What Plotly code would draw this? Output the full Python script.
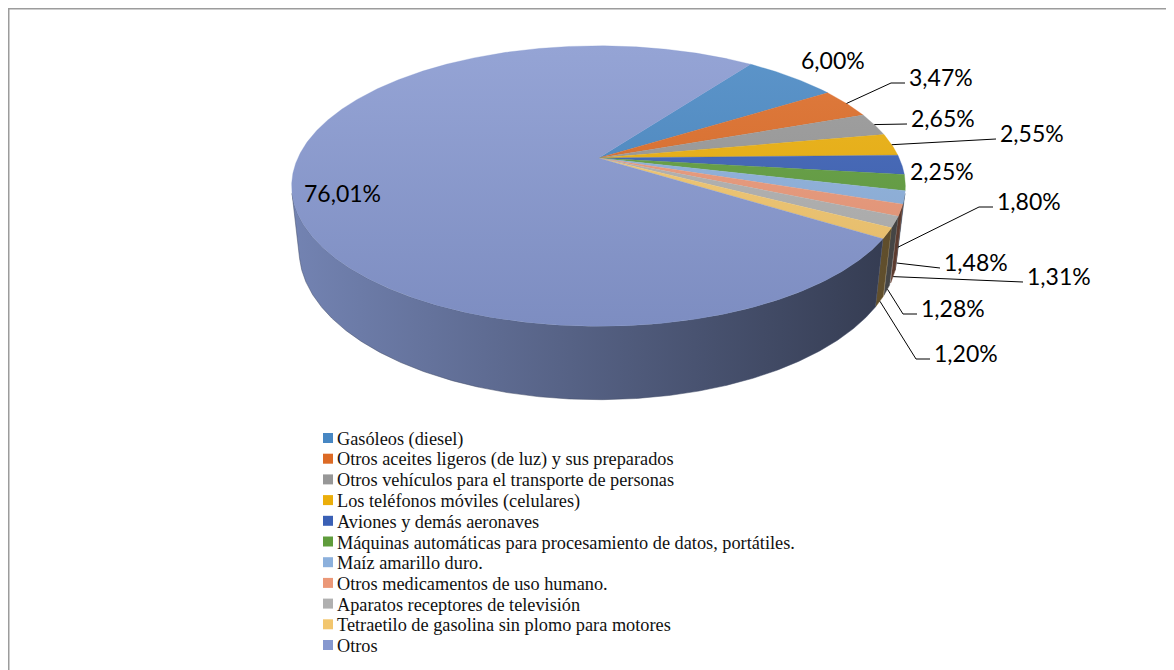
import numpy as np
import plotly.graph_objects as go

# ---------------- data ----------------
categories = [
    "Gasóleos (diesel)",
    "Otros aceites ligeros (de luz) y sus preparados",
    "Otros vehículos para el transporte de personas",
    "Los teléfonos móviles (celulares)",
    "Aviones y demás aeronaves",
    "Máquinas automáticas para procesamiento de datos, portátiles.",
    "Maíz amarillo duro.",
    "Otros medicamentos de uso humano.",
    "Aparatos receptores de televisión",
    "Tetraetilo de gasolina sin plomo para motores",
    "Otros",
]
shares = [6.00, 3.47, 2.65, 2.55, 2.25, 1.80, 1.48, 1.31, 1.28, 1.20, 76.01]
value_labels = ["6,00%", "3,47%", "2,65%", "2,55%", "2,25%", "1,80%",
                "1,48%", "1,31%", "1,28%", "1,20%", "76,01%"]

# ---------------- style ----------------
colors = ["#4787C3", "#DC6A25", "#979797", "#EBAE0A", "#3A60B5", "#5F9C3C",
          "#8CB0DC", "#EB9878", "#B0B0B0", "#F2C66E", "#8698CF"]
# label centre positions (page pixels) and leader elbow lengths
label_pos = [(833, 60), (941, 77), (943, 118), (1032, 133), (942, 171), (1029, 201),
             (976, 262), (1059, 276), (953, 308), (966, 353), (342, 193)]
leader = [None, 14, 0, 0, None, 14, 0, 0, 14, 14, None]

PAGE_W, PAGE_H, BODY = 1174, 670, 8
W, HGT = PAGE_W - BODY, PAGE_H - BODY
PHI = np.radians(26.6)
DIST = 4.47
DEPTH = 0.24
SCALE = 1344.0
CX, CY = 598.5, 158.0
START = 54.0


def proj(theta_deg, depth=0.0):
    th = np.radians(np.asarray(theta_deg, dtype=float))
    X = np.cos(th)
    Z = -np.sin(th)
    Y = -depth * DEPTH
    yc = Y * np.cos(PHI) - Z * np.sin(PHI)
    zc = DIST - Y * np.sin(PHI) - Z * np.cos(PHI)
    return CX + SCALE * X / zc, CY - SCALE * yc / zc


def hex2rgb(h):
    h = h.lstrip("#")
    return [int(h[i:i + 2], 16) for i in (0, 2, 4)]


def shade(h, f):
    r = hex2rgb(h)
    return "rgb(%d,%d,%d)" % tuple(max(0, min(255, round(v * f))) for v in r)


def tint(h, t):
    r = hex2rgb(h)
    return "rgb(%d,%d,%d)" % tuple(round(v + (255 - v) * t) for v in r)


# silhouette angles of the cylinder wall
zs = 1.0 / (DIST * np.cos(PHI))
sil = np.degrees(np.arcsin(zs))
vis_lo, vis_hi = -180 + sil, -sil
xl, _ = proj(180 + sil)
xr, _ = proj(-sil)
ytop = proj(90)[1]
ybot = proj(270)[1]

# slice angles (clockwise from START)
bounds = []
acc = 0.0
for s in shares:
    a = START - 3.6 * acc
    acc += s
    b = START - 3.6 * acc
    bounds.append((a, b))

fig = go.Figure()

# side walls
for (a, b), c in zip(bounds, colors):
    lo, hi = max(b, vis_lo), min(a, vis_hi)
    if hi <= lo:
        continue
    th = np.linspace(lo, hi, max(4, int((hi - lo) * 3)))
    x1, y1 = proj(th, 0)
    x2, y2 = proj(th[::-1], 1)
    fig.add_trace(go.Scatter(
        x=np.concatenate([x1, x2, x1[:1]]), y=np.concatenate([y1, y2, y1[:1]]),
        mode="lines", line=dict(width=0.5, color=shade(c, 0.5)), fill="toself",
        fillcolor=shade(c, 0.6),
        fillgradient=dict(type="horizontal", start=xl, stop=xr,
                          colorscale=[[0, shade(c, 0.86)], [1, shade(c, 0.38)]]),
        hoverinfo="skip", showlegend=False))

# top faces
for (a, b), c in zip(bounds, colors):
    th = np.linspace(a, b, max(4, int(abs(a - b) * 3)))
    x, y = proj(th, 0)
    fig.add_trace(go.Scatter(
        x=np.concatenate([[CX], x, [CX]]), y=np.concatenate([[CY], y, [CY]]),
        mode="lines", line=dict(width=0.3, color=c), fill="toself", fillcolor=c,
        fillgradient=dict(type="vertical", start=ytop, stop=ybot,
                          colorscale=[[0, tint(c, 0.12)], [1, shade(c, 0.93)]]),
        hoverinfo="skip", showlegend=False))

annotations = []
# data labels and leader lines
for i, ((a, b), txt) in enumerate(zip(bounds, value_labels)):
    lx, ly = label_pos[i]
    annotations.append(dict(x=lx, y=ly, text=txt, showarrow=False, xanchor="center",
                            yanchor="middle", font=dict(family="Lato", size=23, color="#000")))
    if leader[i] is None:
        continue
    mid = (a + b) / 2
    ax, ay = proj(mid, 0 if mid > 0 else 1)
    ex, ey = lx - 36, ly + 6
    xs = [ax, ex - leader[i], ex] if leader[i] else [ax, ex]
    ys = [ay, ey, ey] if leader[i] else [ay, ey]
    fig.add_trace(go.Scatter(x=xs, y=ys, mode="lines", line=dict(color="#000", width=1),
                             hoverinfo="skip", showlegend=False))

# legend (manual, tight spacing)
leg_x, leg_y0, leg_dy = 328, 438, 20.7
fig.add_trace(go.Scatter(
    x=[leg_x] * len(categories), y=[leg_y0 + leg_dy * i for i in range(len(categories))],
    mode="markers", marker=dict(symbol="square", size=10, color=colors, line=dict(width=0)),
    hoverinfo="skip", showlegend=False))
for i, cat in enumerate(categories):
    annotations.append(dict(x=leg_x + 7, y=leg_y0 + leg_dy * i + 1, text=cat, showarrow=False,
                            xanchor="left", yanchor="middle",
                            font=dict(family="Liberation Serif, Times New Roman, serif",
                                      size=18.3, color="#111")))

fig.update_layout(
    width=W, height=HGT, margin=dict(l=0, r=0, t=0, b=0),
    paper_bgcolor="white", plot_bgcolor="white",
    xaxis=dict(range=[BODY, PAGE_W], visible=False, fixedrange=True),
    yaxis=dict(range=[PAGE_H, BODY], visible=False, fixedrange=True),
    annotations=annotations,
    shapes=[
        dict(type="line", xref="x", yref="y", x0=8, y0=8.5, x1=PAGE_W, y1=8.5,
             line=dict(color="#9c9c9c", width=2)),
        dict(type="line", xref="x", yref="y", x0=8.5, y0=8, x1=8.5, y1=PAGE_H,
             line=dict(color="#9c9c9c", width=2)),
    ],
)

fig.write_html("out.html")
